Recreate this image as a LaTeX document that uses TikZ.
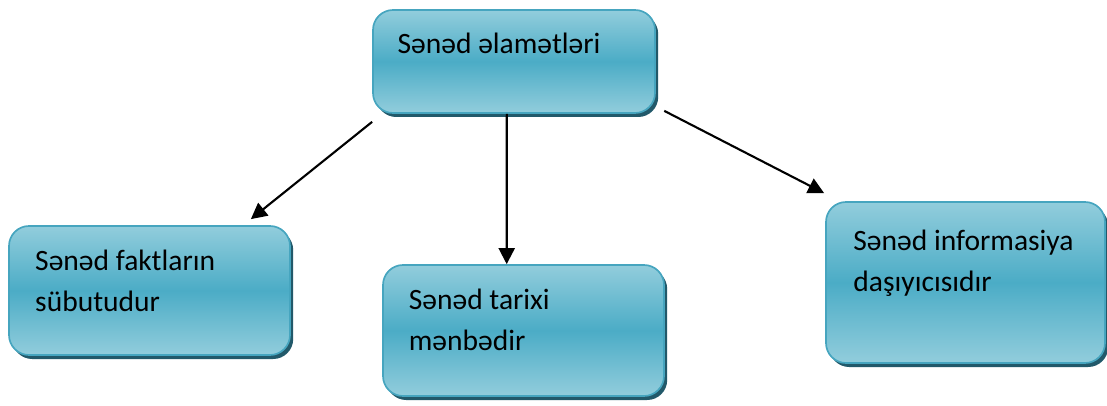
\documentclass[tikz,border=0pt]{standalone}
\usepackage{fontspec}
\setmainfont{Carlito}
\usetikzlibrary{arrows.meta,shadows}

\definecolor{boxlight}{HTML}{92CDDC}
\definecolor{boxmid}{HTML}{4BACC6}
\definecolor{boxline}{HTML}{46A5BF}
\definecolor{boxshadow}{HTML}{22596A}

\tikzset{
  box/.style={rounded corners=0.5cm,draw=boxline,line width=1.2pt,
    top color=boxlight,bottom color=boxlight,middle color=boxmid,
    drop shadow={shadow xshift=0.08cm,shadow yshift=-0.1cm,fill=boxshadow,opacity=1},
    inner sep=0pt},
  boxtext/.style={anchor=base west,align=left,inner sep=0pt,
    font=\fontsize{21}{29.2}\selectfont},
  arrow/.style={-{Triangle[length=0.4cm,width=0.4cm]},line width=1.5pt}
}

\begin{document}
\begin{tikzpicture}
\useasboundingbox (0,0) rectangle (27.675,10.125);
\node [box,minimum width=7.05cm,minimum height=2.575cm] (top) at (12.85,8.5875) {};
\node [box,minimum width=7.025cm,minimum height=3.225cm] (left) at (3.7375,2.8625) {};
\node [box,minimum width=7.025cm,minimum height=3.275cm] (mid) at (13.0875,1.8625) {};
\node [box,minimum width=6.975cm,minimum height=4.025cm] (right) at (24.1375,3.0625) {};
\node [boxtext] (toptext) at ([shift={(0.63,-1.12)}]top.north west) {Sənəd əlamətləri};
\node [boxtext] (lefttext) at ([shift={(0.67,-2.15)}]left.north west) {Sənəd faktların\\sübutudur};
\node [boxtext] (midtext) at ([shift={(0.66,-2.15)}]mid.north west) {Sənəd tarixi\\mənbədir};
\node [boxtext] (righttext) at ([shift={(0.7,-2.27)}]right.north west) {Sənəd informasiya\\daşıyıcısıdır};
\draw [arrow] ([shift={(0,-0.2)}]top.south west) -- ([shift={(-1,0.15)}]left.north east);
\draw [arrow] ([xshift=-0.18cm]top.south) -- ([xshift=-0.42cm]mid.north);
\draw [arrow] ([shift={(0.21,0.075)}]top.south east) -- ([shift={(-0.025,0.2)}]right.north west);
\end{tikzpicture}
\end{document}
